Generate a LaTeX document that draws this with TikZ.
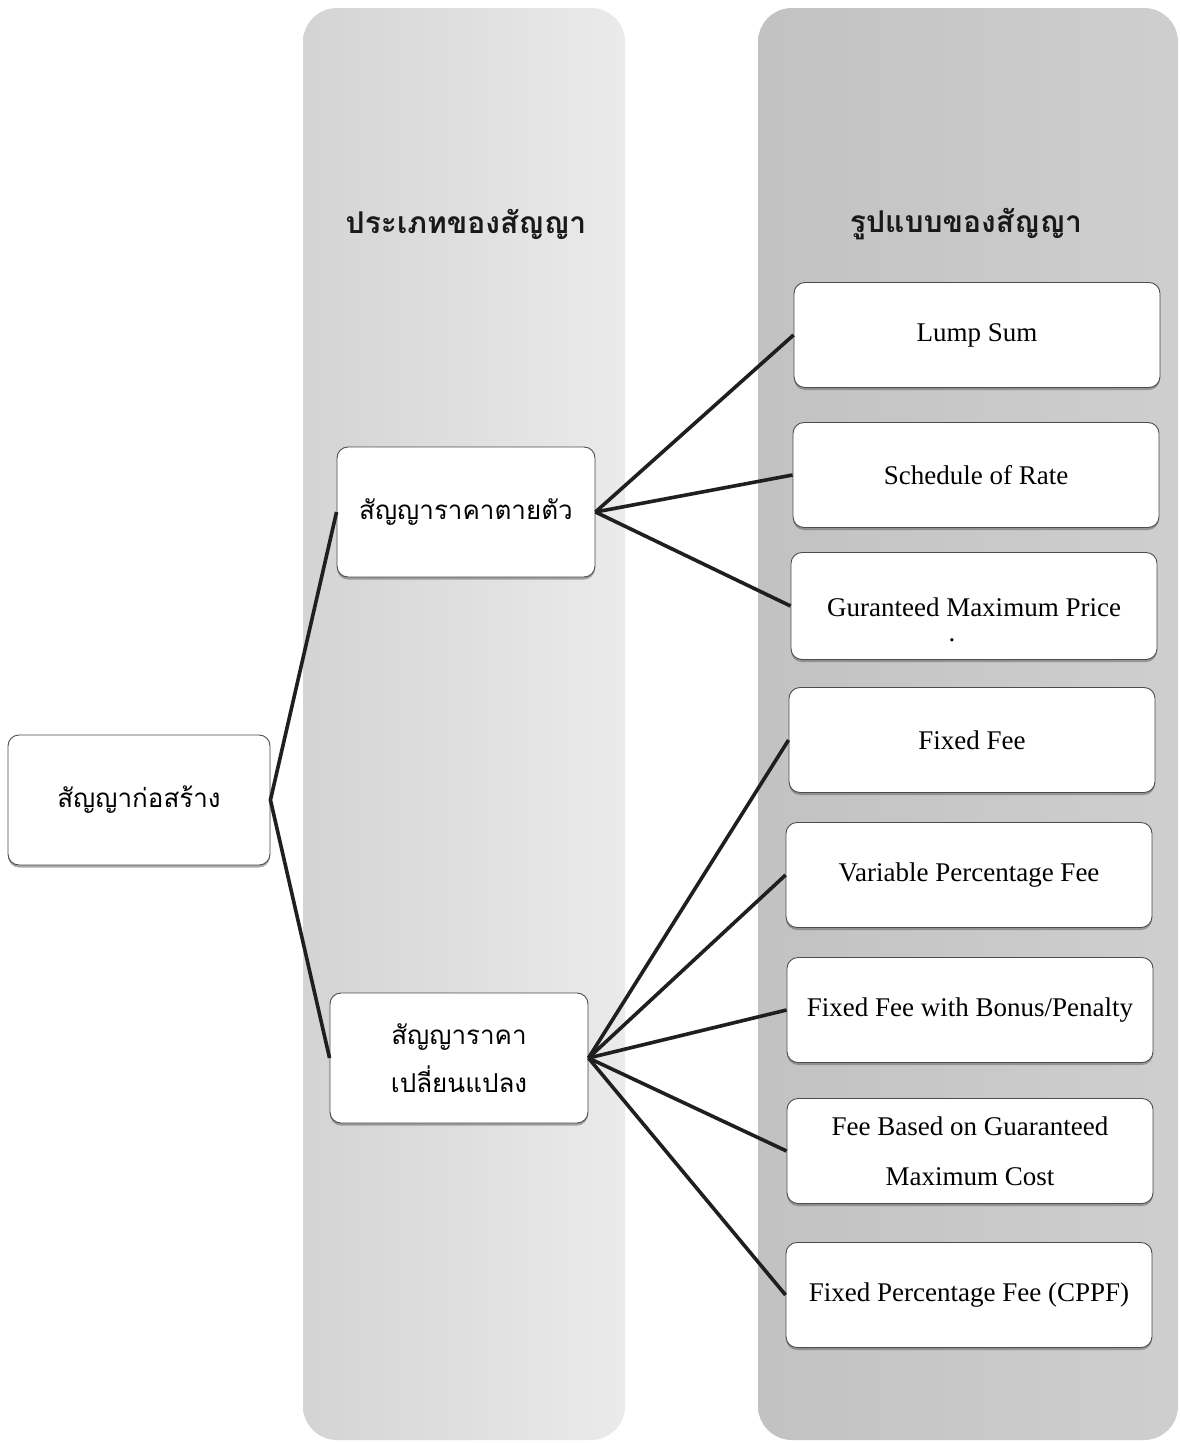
\documentclass[tikz,border=0pt]{standalone}
\usepackage{fontspec}
\setmainfont{Liberation Serif}
\newfontfamily\thaifont[Script=Thai]{Loma}
\usetikzlibrary{shadows}

\begin{document}
\begin{tikzpicture}[x=1pt, y=-1pt,
  column/.style={rounded corners=34pt},
  box/.style={draw=black!70, line width=0.9pt, fill=white, rounded corners=11pt,
    drop shadow={shadow xshift=0pt, shadow yshift=-2.5pt, opacity=0.55, fill=black!60},
    align=center, inner sep=0pt},
  thaibox/.style={box, minimum width=258pt, minimum height=130pt,
    font=\thaifont\fontsize{26}{48}\selectfont},
  formbox/.style={box, minimum width=366pt, minimum height=105pt,
    font=\fontsize{27}{50}\selectfont},
  header/.style={font=\thaifont\bfseries\fontsize{30}{40}\selectfont, text=black!90},
  link/.style={line width=3.6pt, draw=black!88}
]
\useasboundingbox (0,0) rectangle (1180,1443);
\fill[white] (0,0) rectangle (1180,1443);

% the two shaded columns
\shade[column, left color=black!17, right color=black!8] (303,8) rectangle (625,1440);
\shade[column, left color=black!24, right color=black!19] (758,8) rectangle (1178,1440);

% column headings
\node[header] (typehead) at (466,224) {ประเภทของสัญญา};
\node[header] (formhead) at (966,224) {รูปแบบของสัญญา};

% root and contract types
\node[thaibox, minimum width=262pt] (root) at (139,800) {สัญญาก่อสร้าง};
\node[thaibox] (fixed) at (466,512) {สัญญาราคาตายตัว};
\node[thaibox] (var) at (459,1058) {สัญญาราคา\\เปลี่ยนแปลง};

% contract forms
\node[formbox] (lump) at (977,335) {Lump Sum};
\node[formbox] (sched) at (976,475) {Schedule of Rate};
\node[formbox, minimum height=107pt] (gmp) at (974,606) {};
\node[font=\fontsize{27}{30}\selectfont] (gmptext) at (974,607) {Guranteed Maximum Price};
\node[font=\fontsize{27}{30}\selectfont, inner sep=0pt] (gmpdot) at (952,640) {.};
\node[formbox] (ffee) at (972,740) {Fixed Fee};
\node[formbox] (vpf) at (969,875) {Variable Percentage Fee};
\node[formbox] (bonus) at (970,1010) {Fixed Fee with Bonus/Penalty};
\node[formbox] (gmc) at (970,1151) {Fee Based on Guaranteed\\Maximum Cost};
\node[formbox] (cppf) at (969,1295) {Fixed Percentage Fee (CPPF)};

% connectors
\draw[link] (fixed.west) -- (root.east) -- (var.west);
\foreach \t in {lump, sched, gmp}
  \draw[link] (fixed.east) -- (\t.west);
\foreach \t in {ffee, vpf, bonus, gmc, cppf}
  \draw[link] (var.east) -- (\t.west);
\end{tikzpicture}
\end{document}
